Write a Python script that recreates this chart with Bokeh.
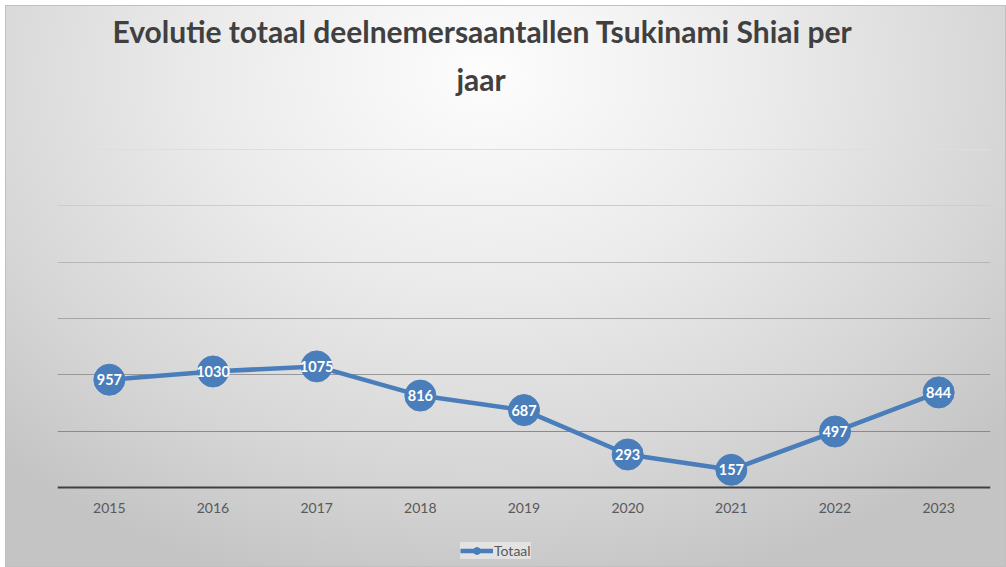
from bokeh.plotting import figure
from bokeh.models import Range1d, FixedTicker, Grid, Legend, LegendItem, ColumnDataSource, Title
from bokeh.core.properties import value
from bokeh.embed import file_html
from bokeh.resources import INLINE

years = [2015, 2016, 2017, 2018, 2019, 2020, 2021, 2022, 2023]
totaal = [957, 1030, 1075, 816, 687, 293, 157, 497, 844]
labels = [str(v) for v in totaal]
grid_levels = [500, 1000, 1500, 2000, 2500, 3000]
grid_colors = ["#8a8a8a", "#989898", "#a6a6a6", "#b6b6b6", "#cdcdcd", "#dedede"]

title_lines = ["Evolutie totaal deelnemersaantallen Tsukinami Shiai per", "jaar"]
title_offsets = [55, 399]
series_color = "#4a7ebb"

# frame reaches the bottom of the canvas so the legend (below the axis) stays inside it
p = figure(width=1001, height=562, output_backend="svg", toolbar_location=None,
           x_range=Range1d(2014.5, 2023.5), y_range=Range1d(-710, 3027),
           min_border_left=52, min_border_right=16, min_border_top=141, min_border_bottom=0)

p.styles = {
    "margin-left": "5px",
    "margin-top": "5px",
    "background-image": "radial-gradient(ellipse 70% 95% at 48% 12%, #fdfdfd 0%, #ebebeb 40%, #d6d6d6 75%, #c4c4c4 100%)",
    "box-shadow": "inset 0 0 0 1px #c0c0c0",
}
p.background_fill_alpha = 0
p.border_fill_alpha = 0
p.outline_line_color = None

# spacer between frame and title (nearest to frame first)
p.add_layout(Title(text=" ", text_font="Lato", text_font_size="27px"), "above")
for line, off in reversed(list(zip(title_lines, title_offsets))):
    p.add_layout(Title(text=line, align="left", offset=off,
                       text_font="Lato", text_font_size="30px", text_font_style="bold",
                       text_color="#404040"), "above")

# axes
p.yaxis.visible = False
p.xaxis.fixed_location = 0
p.xaxis.ticker = FixedTicker(ticks=years)
p.xaxis.axis_line_color = "#404040"
p.xaxis.axis_line_width = 2
p.xaxis.major_tick_line_color = None
p.xaxis.minor_tick_line_color = None
p.xaxis.major_label_text_font = "Lato"
p.xaxis.major_label_text_font_size = "14px"
p.xaxis.major_label_text_color = "#595959"
p.xaxis.major_label_standoff = 9

# grid
p.xgrid.visible = False
p.ygrid.visible = False
for lvl, col in zip(grid_levels, grid_colors):
    g = Grid(dimension=1, ticker=FixedTicker(ticks=[lvl]), grid_line_color=col, grid_line_width=1.2)
    p.add_layout(g)

src = ColumnDataSource(dict(x=years, y=totaal, lab=labels))
ln = p.line("x", "y", source=src, line_color=series_color, line_width=4.5)
sc = p.scatter("x", "y", source=src, size=31, fill_color=series_color, line_color=series_color)
p.text("x", "y", text="lab", source=src, text_color="white", text_font=value("Lato"),
       text_font_size="14.5px", text_font_style="bold", text_align="center", text_baseline="middle")

legend = Legend(items=[LegendItem(label="Totaal", renderers=[ln, sc])],
                location=(403, 8), orientation="horizontal",
                label_text_font="Lato", label_text_font_size="14px", label_text_color="#595959",
                background_fill_color="#ffffff", background_fill_alpha=0.45,
                border_line_color=None, glyph_width=33, glyph_height=17,
                padding=10, margin=0, label_standoff=1)
p.add_layout(legend)

open("out.html", "w").write(file_html(p, INLINE))
